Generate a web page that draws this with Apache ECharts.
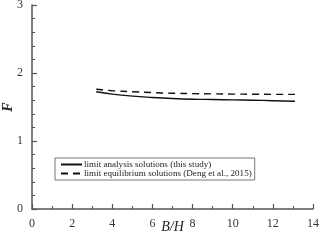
<!DOCTYPE html>
<html><head><meta charset="utf-8">
<script src="https://cdn.jsdelivr.net/npm/echarts@6/dist/echarts.min.js"></script>
<style>html,body{margin:0;padding:0;background:#fff}#c{width:320px;height:243px}</style>
</head><body><div id="c"></div>
<script>
const xValues = [3.2, 4, 5, 6, 7, 8, 9, 10, 11, 12, 13.1];
const limitAnalysis = [1.725, 1.69, 1.66, 1.64, 1.625, 1.615, 1.61, 1.605, 1.6, 1.593, 1.585];
const limitEquilibrium = [1.76, 1.74, 1.725, 1.712, 1.703, 1.697, 1.693, 1.69, 1.688, 1.686, 1.685];
const seriesNames = ['limit analysis solutions (this study)', 'limit equilibrium solutions (Deng et al., 2015)'];
const FONT = '"Liberation Serif","Times New Roman",serif';
const chart = echarts.init(document.getElementById('c'));
const axisCommon = {
  axisLine: {lineStyle: {color: '#555', width: 1.5}},
  axisTick: {inside: true, length: 5, lineStyle: {color: '#555', width: 1.2}},
  minorTick: {show: true, length: 3, lineStyle: {color: '#555', width: 1}},
  splitLine: {show: false},
  axisLabel: {color: '#333', fontFamily: FONT, fontSize: 12},
};
chart.setOption({
  animation: false,
  grid: {left: 32, right: 7, top: 5, bottom: 34, containLabel: false, outerBoundsMode: 'none'},
  xAxis: Object.assign({}, axisCommon, {
    type: 'value', min: 0, max: 14, interval: 2,
    minorTick: Object.assign({}, axisCommon.minorTick, {splitNumber: 2}),
    axisLabel: Object.assign({}, axisCommon.axisLabel, {margin: 9}),
    name: 'B/H', nameLocation: 'middle', nameGap: 11, nameMoveOverlap: false,
    nameTextStyle: {fontFamily: FONT, fontStyle: 'italic', fontSize: 14, color: '#222'}
  }),
  yAxis: Object.assign({}, axisCommon, {
    type: 'value', min: 0, max: 3, interval: 1,
    minorTick: Object.assign({}, axisCommon.minorTick, {splitNumber: 5}),
    axisLabel: Object.assign({}, axisCommon.axisLabel, {margin: 9}),
    name: 'F', nameLocation: 'middle', nameGap: 17, nameRotate: 90, nameMoveOverlap: false,
    nameTextStyle: {fontFamily: FONT, fontStyle: 'italic', fontWeight: 'bold', fontSize: 14, color: '#222'}
  }),
  legend: {
    orient: 'vertical', left: 55, top: 158,
    borderColor: '#777', borderWidth: 1, padding: [2, 3, 2, 5], itemGap: 0,
    itemWidth: 21, itemHeight: 10,
    itemStyle: {opacity: 0},
    textStyle: {fontFamily: FONT, fontSize: 9.1, color: '#222', padding: [0, 0, 0, -3]},
    data: seriesNames
  },
  series: [
    {name: seriesNames[0], type: 'line', symbol: 'none', smooth: true,
     lineStyle: {color: '#111', width: 1.4, type: 'solid'}, itemStyle: {color: '#111'},
     data: xValues.map((x, i) => [x, limitAnalysis[i]])},
    {name: seriesNames[1], type: 'line', symbol: 'none', smooth: true,
     lineStyle: {color: '#111', width: 1.4, type: [7, 5]}, itemStyle: {color: '#111'},
     data: xValues.map((x, i) => [x, limitEquilibrium[i]])}
  ]
});
</script></body></html>
